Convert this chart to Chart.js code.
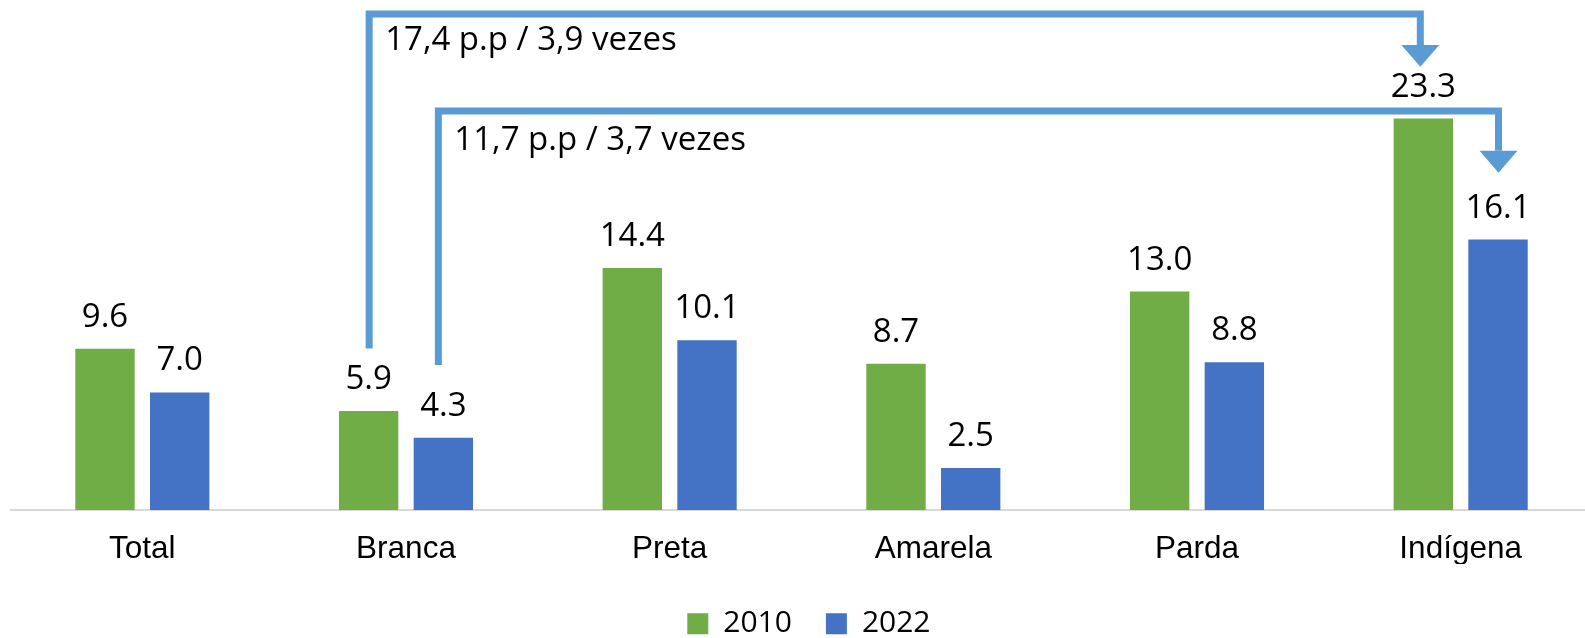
<!DOCTYPE html>
<html>
<head>
<meta charset="utf-8">
<script src="https://cdn.jsdelivr.net/npm/chart.js@4.4.0/dist/chart.umd.min.js"></script>
<style>
html,body{margin:0;padding:0;overflow:hidden;background:#fff;}
#wrap{width:1594px;height:638px;}
</style>
</head>
<body>
<div id="wrap"><canvas id="c" width="1594" height="638"></canvas></div>
<script>
// ---- data ----
const categories = ['Total', 'Branca', 'Preta', 'Amarela', 'Parda', 'Indígena'];
const seriesNames = ['2010', '2022'];
const values2010 = [9.6, 5.9, 14.4, 8.7, 13.0, 23.3];
const values2022 = [7.0, 4.3, 10.1, 2.5, 8.8, 16.1];
const annotationTexts = ['17,4 p.p / 3,9 vezes', '11,7 p.p / 3,7 vezes'];

// annotation arrows (in value units of the y axis)
const arrowSpecs = [
  {fromDs: 0, fromIdx: 1, toDs: 0, toIdx: 5, fromDx: 0.5, toDx: -3, level: 29.52, bottom: 9.62, headTop: 27.68, tip: 26.39, textY: 27.38},
  {fromDs: 1, fromIdx: 1, toDs: 1, toIdx: 5, fromDx: -5, toDx: 0.5, level: 23.75, bottom: 8.63, headTop: 21.39, tip: 20.08, textY: 21.43}
];

const GREEN = '#70AD47', BLUE = '#4472C4', ARROW = '#5B9BD5';

const valueLabels = {
  id: 'valueLabels',
  afterDatasetsDraw(chart) {
    const ctx = chart.ctx;
    ctx.save();
    ctx.font = '33px "Open Sans"';
    ctx.fillStyle = '#000';
    ctx.textAlign = 'center';
    ctx.textBaseline = 'alphabetic';
    chart.data.datasets.forEach((ds, di) => {
      const meta = chart.getDatasetMeta(di);
      meta.data.forEach((bar, i) => {
        ctx.fillText(ds.data[i].toFixed(1), bar.x, bar.y - 22);
      });
    });
    ctx.restore();
  }
};

const arrows = {
  id: 'arrows',
  afterDatasetsDraw(chart) {
    const ctx = chart.ctx;
    const y = chart.scales.y;
    ctx.save();
    arrowSpecs.forEach((a, k) => {
      const x1 = chart.getDatasetMeta(a.fromDs).data[a.fromIdx].x + a.fromDx;
      const x2 = chart.getDatasetMeta(a.toDs).data[a.toIdx].x + a.toDx;
      const yl = y.getPixelForValue(a.level);
      const yb = y.getPixelForValue(a.bottom);
      const yh = y.getPixelForValue(a.headTop);
      const yt = y.getPixelForValue(a.tip);
      ctx.strokeStyle = ARROW;
      ctx.fillStyle = ARROW;
      ctx.lineWidth = 7;
      ctx.lineJoin = 'miter';
      ctx.lineCap = 'butt';
      ctx.beginPath();
      ctx.moveTo(x1, yb);
      ctx.lineTo(x1, yl);
      ctx.lineTo(x2, yl);
      ctx.lineTo(x2, yh);
      ctx.stroke();
      ctx.beginPath();
      ctx.moveTo(x2 - 19, yh);
      ctx.lineTo(x2 + 19, yh);
      ctx.lineTo(x2, yt);
      ctx.closePath();
      ctx.fill();
      ctx.font = '33px "Open Sans"';
      ctx.fillStyle = '#000';
      ctx.textAlign = 'left';
      ctx.textBaseline = 'alphabetic';
      ctx.fillText(annotationTexts[k], x1 + 16, y.getPixelForValue(a.textY));
    });
    ctx.restore();
  }
};

const legendShift = {
  id: 'legendShift',
  afterLayout(chart) {
    const lg = chart.legend;
    if (!lg) return;
    const dx = 7.4, dy = 10.8;
    lg.left += dx; lg.right += dx;
    lg.top += dy; lg.bottom += dy;
  }
};

new Chart(document.getElementById('c'), {
  type: 'bar',
  data: {
    labels: categories,
    datasets: [
      {label: seriesNames[0], data: values2010, backgroundColor: GREEN, borderWidth: 0},
      {label: seriesNames[1], data: values2022, backgroundColor: BLUE, borderWidth: 0}
    ]
  },
  options: {
    responsive: false,
    animation: false,
    devicePixelRatio: 1,
    layout: {padding: {left: 10.5, right: 1.5, top: 6, bottom: 0}},
    categoryPercentage: 0.5666,
    barPercentage: 0.795,
    scales: {
      x: {
        grid: {display: false, drawTicks: false},
        border: {display: true, color: '#D9D9D9', width: 2},
        ticks: {font: {family: '"Liberation Sans", Arial', size: 31.5}, color: '#000', padding: 20},
        afterFit(scale) { scale.height = 54; }
      },
      y: {
        display: false,
        min: 0,
        max: 30
      }
    },
    plugins: {
      legend: {
        position: 'bottom',
        labels: {
          boxWidth: 21,
          boxHeight: 21,
          padding: 34,
          color: '#000',
          font: {family: '"Open Sans"', size: 30}
        }
      },
      tooltip: {enabled: false}
    }
  },
  plugins: [valueLabels, arrows, legendShift]
});
</script>
</body>
</html>
